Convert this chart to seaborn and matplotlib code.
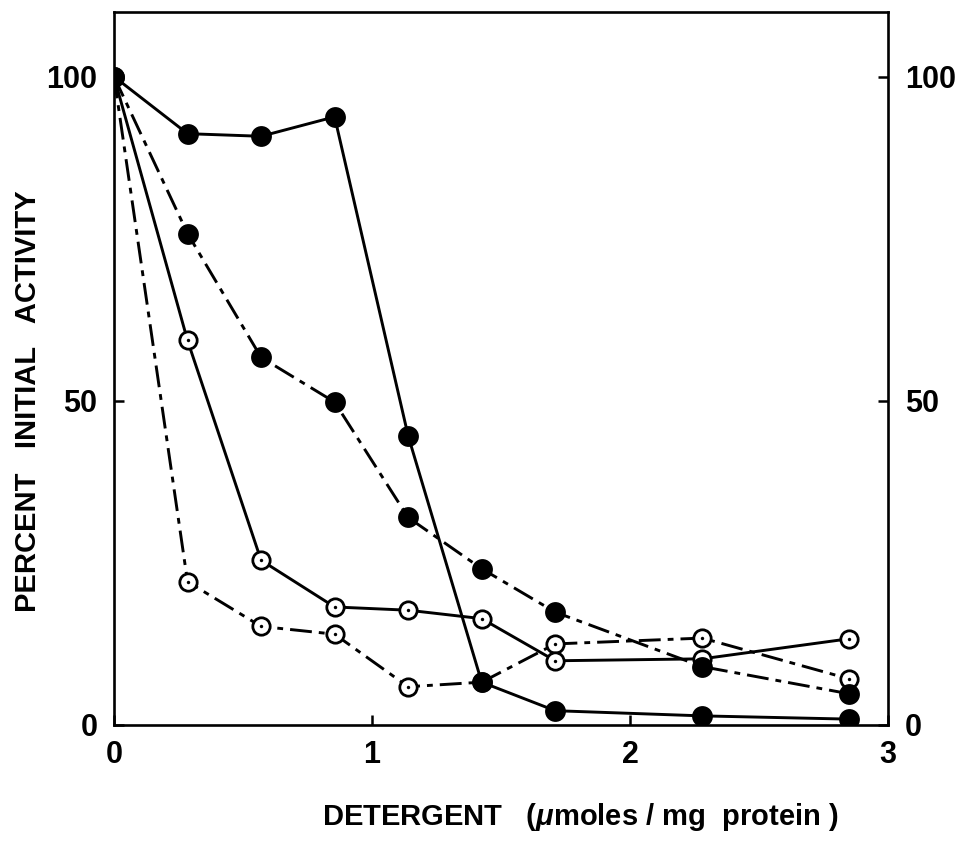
import matplotlib
matplotlib.use("Agg")
import matplotlib.pyplot as plt
import seaborn as sns

# Detergent dose (umoles/mg protein)
detergent = [0.0, 0.285, 0.57, 0.855, 1.14, 1.425, 1.71, 2.28, 2.85]

# Percent initial activity for each preparation
filled_solid = [100, 91.2, 90.8, 93.8, 44.6, 6.6, 2.2, 1.4, 0.9]
filled_dashdot = [100, 75.8, 56.7, 49.8, 32.0, 24.1, 17.4, 9.0, 4.8]
open_solid = [100, 59.3, 25.4, 18.2, 17.7, 16.4, 9.9, 10.2, 13.3]
open_dashdot = [100, 22.1, 15.2, 14.0, 5.9, 6.6, 12.5, 13.4, 7.1]

x_ticks = [0, 1, 2, 3]
y_ticks = [0, 50, 100]

sns.set_theme(style="white")
plt.rcParams["font.family"] = ["Liberation Sans", "DejaVu Sans"]
plt.rcParams["font.weight"] = "bold"
plt.rcParams["text.color"] = "black"
plt.rcParams["axes.labelcolor"] = "black"
plt.rcParams["mathtext.fontset"] = "custom"
plt.rcParams["mathtext.it"] = "Liberation Sans:italic:bold"
plt.rcParams["mathtext.rm"] = "Liberation Sans:bold"

fig = plt.figure(figsize=(9.58, 8.42), dpi=100)
ax = fig.add_axes([0.119, 0.139, 0.808, 0.847])

solid = "-"
dashdot = (0, (7.5, 2.4, 2.0, 2.4))
lw = 2.1

def draw_open(y, ls):
    sns.lineplot(x=detergent, y=y, ax=ax, color="black", linewidth=lw,
                 linestyle=ls, marker="o", markersize=12.5,
                 markerfacecolor="white", markeredgecolor="black",
                 markeredgewidth=2.0, markevery=list(range(1, len(y))),
                 zorder=2)
    sns.scatterplot(x=detergent[1:], y=y[1:], ax=ax, color="black", s=6,
                    linewidth=0, zorder=3)

def draw_filled(y, ls):
    sns.lineplot(x=detergent, y=y, ax=ax, color="black", linewidth=lw,
                 linestyle=ls, marker="o", markersize=15,
                 markerfacecolor="black", markeredgecolor="black",
                 markeredgewidth=0, zorder=4)

draw_open(open_dashdot, dashdot)
draw_open(open_solid, solid)
draw_filled(filled_dashdot, dashdot)
draw_filled(filled_solid, solid)

ax.set_xlim(0, 3)
ax.set_ylim(0, 110)
ax.set_xticks(x_ticks)
ax.set_xticklabels([str(v) for v in x_ticks])
ax.set_yticks(y_ticks)
ax.set_yticklabels([str(v) for v in y_ticks])

for side in ["left", "right", "top", "bottom"]:
    ax.spines[side].set_visible(True)
    ax.spines[side].set_color("black")
    ax.spines[side].set_linewidth(1.9)

ax.tick_params(axis="both", direction="in", length=7, width=1.8,
               colors="black", labelsize=22)
ax.tick_params(axis="y", left=True, right=True, labelleft=True,
               labelright=True, pad=12)
ax.tick_params(axis="x", bottom=True, top=False, pad=11)
for lab in ax.get_xticklabels() + ax.get_yticklabels():
    lab.set_fontweight("bold")
    lab.set_color("black")

ax.set_xlabel("DETERGENT   ($\\mu$moles / mg  protein )", fontsize=21,
              fontweight="bold", color="black")
ax.xaxis.set_label_coords(0.602, -0.106)
ax.set_ylabel("PERCENT   INITIAL   ACTIVITY", fontsize=21,
              fontweight="bold", color="black")
ax.yaxis.set_label_coords(-0.093, 50 / 110)

fig.savefig("out.png", dpi=100, facecolor="white")
